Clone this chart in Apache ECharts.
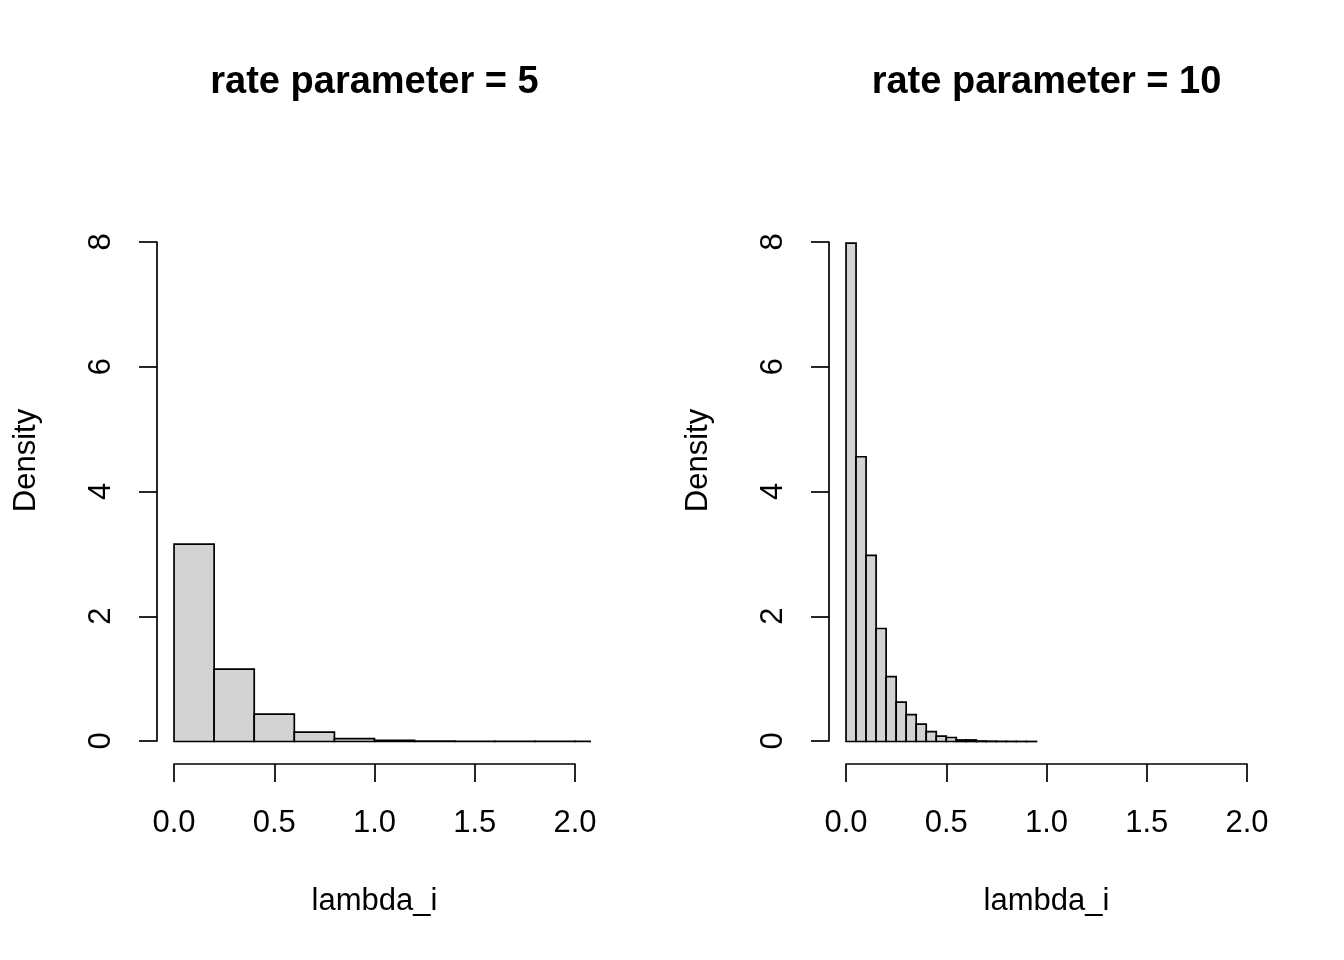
<!DOCTYPE html>
<html>
<head>
<meta charset="utf-8">
<script src="https://cdn.jsdelivr.net/npm/echarts@6/dist/echarts.min.js"></script>
<style>
  html, body { margin: 0; padding: 0; background: #fff; }
  #chart { width: 1344px; height: 960px; }
</style>
</head>
<body>
<div id="chart"></div>
<script>
// histogram bin edges and densities
var breaks5 = [0, 0.2, 0.4, 0.6, 0.8, 1.0, 1.2, 1.4, 1.6, 1.8, 2.0, 2.2];
var density5 = [3.16, 1.16, 0.44, 0.15, 0.045, 0.02, 0.006, 0.003, 0.002, 0.001, 0.001];

var breaks10 = [0, 0.05, 0.1, 0.15, 0.2, 0.25, 0.3, 0.35, 0.4, 0.45, 0.5,
                0.55, 0.6, 0.65, 0.7, 0.75, 0.8, 0.85, 0.9, 0.95];
var density10 = [7.98, 4.56, 2.98, 1.81, 1.04, 0.63, 0.43, 0.28, 0.16, 0.085,
                 0.064, 0.025, 0.025, 0.008, 0.005, 0.003, 0.002, 0.001, 0.001];

var titles = ['rate parameter = 5', 'rate parameter = 10'];
var xLabel = 'lambda_i';
var yLabel = 'Density';

var FONT = "'Liberation Sans', Arial, sans-serif";
var LW = 1.7;
var FS = 31;

function bins(breaks, dens) {
    var out = [];
    for (var i = 0; i < dens.length; i++) {
        out.push([breaks[i], breaks[i + 1], dens[i]]);
    }
    return out;
}

function renderBar(params, api) {
    var p0 = api.coord([api.value(0), api.value(2)]);
    var p1 = api.coord([api.value(1), 0]);
    return {
        type: 'rect',
        shape: { x: p0[0], y: p0[1], width: p1[0] - p0[0], height: p1[1] - p0[1] },
        style: { fill: '#d3d3d3', stroke: '#000', lineWidth: LW }
    };
}

var hidden = {
    type: 'value',
    axisLine: { show: false }, axisTick: { show: false }, axisLabel: { show: false },
    splitLine: { show: false }
};
function hiddenAxis(extra) {
    return Object.assign({}, hidden, extra);
}

var axisLeft = [174, 846];   // pixel of x = 0
var dataLeft = [158, 830];   // left edge of plot region (x = -0.08)
var yLine = [157, 829];      // where the y axis line sits

var grids = [], xAxes = [], yAxes = [], series = [], graphics = [];

[0, 1].forEach(function (k) {
    var g = grids.length;
    // x axis only: spans 0..2, bottom edge at the axis line
    grids.push({ left: axisLeft[k], top: 242, width: 401, height: 522 });
    // y axis only: spans 0..8, left edge at the axis line
    grids.push({ left: yLine[k], top: 242, width: 401, height: 499 });
    // full plot region, holds the bars and the axis titles
    grids.push({ left: dataLeft[k], top: 157, width: 433, height: 607 });

    xAxes.push({
        gridIndex: g, type: 'value', min: 0, max: 2, interval: 0.5,
        axisLine: { show: true, lineStyle: { color: '#000', width: LW } },
        axisTick: { show: true, inside: false, length: 18, lineStyle: { color: '#000', width: LW } },
        axisLabel: { margin: 44, color: '#000', fontSize: FS, fontFamily: FONT,
            formatter: function (v) { return v.toFixed(1); } },
        splitLine: { show: false }
    });
    yAxes.push(hiddenAxis({ gridIndex: g, min: 0, max: 8 }));

    xAxes.push(hiddenAxis({ gridIndex: g + 1, min: 0, max: 2 }));
    yAxes.push({
        gridIndex: g + 1, type: 'value', min: 0, max: 8, interval: 2,
        axisLine: { show: true, lineStyle: { color: '#000', width: LW } },
        axisTick: { show: true, inside: false, length: 18, lineStyle: { color: '#000', width: LW } },
        axisLabel: { margin: 40, rotate: 90, color: '#000', fontSize: FS, fontFamily: FONT },
        splitLine: { show: false }
    });

    xAxes.push(hiddenAxis({
        gridIndex: g + 2, min: -0.08, max: 2.08,
        name: xLabel, nameLocation: 'middle', nameGap: 122,
        nameTextStyle: { color: '#000', fontSize: FS, fontFamily: FONT }
    }));
    yAxes.push(hiddenAxis({
        gridIndex: g + 2, min: -0.36, max: 9.36,
        name: yLabel, nameLocation: 'middle', nameGap: 116,
        nameTextStyle: { color: '#000', fontSize: FS, fontFamily: FONT }
    }));

    series.push({
        type: 'custom',
        xAxisIndex: g + 2,
        yAxisIndex: g + 2,
        clip: true,
        silent: true,
        renderItem: renderBar,
        data: k === 0 ? bins(breaks5, density5) : bins(breaks10, density10)
    });

    graphics.push({
        type: 'text',
        x: dataLeft[k] + 433 / 2,
        y: 83,
        style: {
            text: titles[k],
            fontSize: 38, fontWeight: 'bold', fontFamily: FONT,
            fill: '#000', align: 'center', verticalAlign: 'middle'
        }
    });
});

var myChart = echarts.init(document.getElementById('chart'));
myChart.setOption({
    backgroundColor: '#fff',
    animation: false,
    grid: grids,
    xAxis: xAxes,
    yAxis: yAxes,
    series: series,
    graphic: graphics
});
</script>
</body>
</html>
